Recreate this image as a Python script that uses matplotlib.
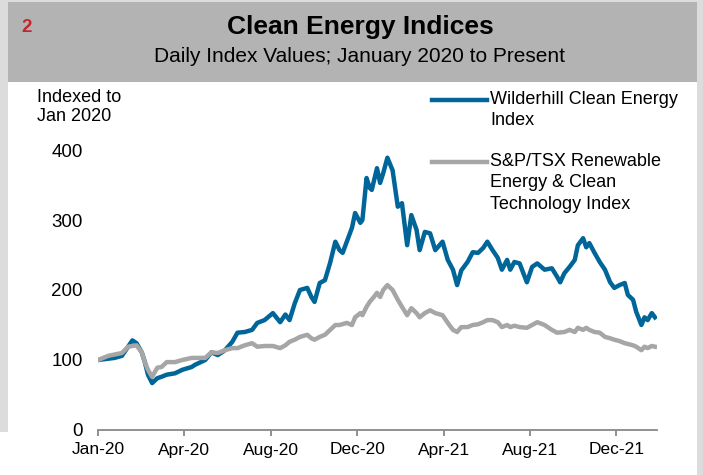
import matplotlib
matplotlib.use("Agg")
import matplotlib.pyplot as plt
from matplotlib.patches import Rectangle
from matplotlib.lines import Line2D

plt.rcParams['font.family'] = ['Liberation Sans', 'DejaVu Sans']

# trading-day index (0 = first trading day of Jan 2020) and index values
wild_days = [0, 16, 23, 33, 37, 42, 45, 48, 52, 57,
             61, 66, 74, 81, 90, 93, 103, 109, 115, 122,
             129, 134, 141, 148, 153, 160, 168, 175, 180, 184,
             189, 194, 201, 205, 208, 213, 218, 223, 228, 232,
             235, 239, 244, 247, 252, 254, 258, 261, 263, 268,
             271, 274, 278, 283, 288, 292, 297, 301, 306, 309,
             314, 319, 324, 331, 336, 341, 345, 349, 355, 360,
             365, 370, 374, 379, 384, 388, 393, 396, 400, 405,
             412, 417, 422, 429, 436, 441, 444, 448, 453, 458,
             461, 466, 469, 472, 477, 482, 487, 492, 496, 501,
             506, 509, 514, 517, 522, 525, 528, 532, 535]
wild_vals = [100, 103, 106, 128, 124, 111, 97, 79, 67, 74,
             76, 79, 81, 86, 90, 93, 100, 111, 107, 114,
             126, 139, 140, 143, 153, 157, 167, 154, 165, 157,
             181, 200, 203, 190, 183, 210, 214, 239, 269, 257,
             253, 269, 289, 310, 296, 300, 360, 346, 343, 374,
             353, 367, 389, 371, 319, 324, 264, 307, 286, 257,
             283, 281, 257, 269, 243, 229, 207, 228, 240, 254,
             253, 260, 269, 257, 246, 229, 243, 229, 240, 238,
             211, 233, 238, 229, 231, 219, 211, 224, 233, 243,
             264, 274, 261, 267, 253, 240, 229, 211, 203, 207,
             210, 193, 186, 169, 150, 161, 157, 167, 161]

tsx_days = [0, 10, 23, 29, 37, 42, 45, 48, 52, 57,
            61, 66, 74, 81, 90, 103, 109, 115, 122, 129,
            134, 141, 148, 153, 160, 168, 175, 180, 184, 189,
            194, 201, 205, 208, 213, 218, 223, 228, 232, 239,
            244, 247, 252, 254, 258, 261, 265, 268, 271, 274,
            278, 283, 288, 292, 297, 301, 306, 309, 314, 319,
            324, 331, 336, 341, 345, 349, 355, 360, 365, 370,
            374, 379, 384, 388, 393, 396, 400, 405, 412, 417,
            422, 429, 436, 441, 448, 453, 458, 461, 466, 469,
            472, 477, 482, 487, 492, 496, 501, 506, 514, 517,
            522, 525, 528, 532, 535]
tsx_vals = [100, 106, 110, 119, 121, 111, 97, 86, 76, 89,
            90, 97, 97, 100, 103, 103, 111, 110, 114, 117,
            117, 121, 124, 119, 120, 120, 117, 121, 126, 129,
            133, 136, 131, 129, 133, 136, 143, 150, 150, 153,
            150, 161, 167, 164, 176, 183, 190, 196, 190, 200,
            207, 200, 186, 176, 164, 174, 167, 161, 167, 171,
            167, 164, 153, 143, 140, 147, 147, 150, 151, 154,
            157, 157, 154, 147, 150, 147, 149, 147, 146, 150,
            154, 150, 143, 139, 140, 143, 140, 146, 143, 146,
            143, 140, 139, 133, 131, 129, 127, 124, 121, 119,
            114, 119, 117, 120, 119]

tick_days = [0, 83, 166, 249, 332, 415, 498]
tick_labels = ['Jan-20', 'Apr-20', 'Aug-20', 'Dec-20', 'Apr-21', 'Aug-21', 'Dec-21']
y_ticks = [0, 100, 200, 300, 400]

label_wild = 'Wilderhill Clean Energy\nIndex'
label_tsx = 'S&P/TSX Renewable\nEnergy & Clean\nTechnology Index'

BLUE = '#006699'
GRAY = '#a6a6a6'
LW = 3.2

W, H = 703, 475
fig = plt.figure(figsize=(W / 100, H / 100), dpi=100)
fig.patch.set_facecolor('white')

def px_rect(x0, y0, x1, y1, color):
    fig.add_artist(Rectangle((x0 / W, 1 - y1 / H), (x1 - x0) / W, (y1 - y0) / H,
                             transform=fig.transFigure, facecolor=color,
                             edgecolor='none', zorder=0))

# frame strips and header band
px_rect(0, 0, 8, 432, '#dcdcdc')
px_rect(697, 0, 703, 475, '#dcdcdc')
px_rect(0, 0, 703, 2, '#dcdcdc')
px_rect(8, 2, 697, 82, '#b3b3b3')

fig.text(21 / W, 1 - 28 / H, '2', color='#c0282d', fontsize=13.5, fontweight='bold',
         ha='left', va='center')
fig.text(360 / W, 1 - 27 / H, 'Clean Energy Indices', fontsize=19, fontweight='bold',
         ha='center', va='center')
fig.text(360 / W, 1 - 56 / H, 'Daily Index Values; January 2020 to Present', fontsize=15,
         ha='center', va='center')

fig.text(37 / W, 1 - 89 / H, 'Indexed to\nJan 2020', fontsize=13, ha='left', va='top',
         linespacing=1.15)

ax = fig.add_axes([98 / W, 45 / H, 559 / W, 280 / H])
ax.set_facecolor('none')
ax.plot(wild_days, wild_vals, color=BLUE, lw=LW, solid_joinstyle='round', zorder=2)
ax.plot(tsx_days, tsx_vals, color=GRAY, lw=LW, solid_joinstyle='round', zorder=3)

ax.set_xlim(0, 537)
ax.set_ylim(0, 400)
ax.set_yticks(y_ticks)
ax.set_xticks(tick_days)
ax.set_xticklabels(tick_labels)
for s in ['top', 'right', 'left']:
    ax.spines[s].set_visible(False)
ax.spines['bottom'].set_color('#888888')
ax.spines['bottom'].set_linewidth(1.3)
ax.tick_params(axis='y', length=0, pad=11, labelsize=13.5)
ax.tick_params(axis='x', length=4, width=1.3, color='#888888', pad=5, labelsize=12.5,
               direction='out')

# legend (drawn manually to mimic layout)
for ly, ty, col, lab in [(100, 91, BLUE, label_wild), (162, 153, GRAY, label_tsx)]:
    fig.add_artist(Line2D([432 / W, 487 / W], [1 - ly / H] * 2, transform=fig.transFigure,
                          color=col, lw=LW))
    fig.text(490 / W, 1 - ty / H, lab, fontsize=13, ha='left', va='top', linespacing=1.33)

fig.savefig('out.png', dpi=100)
